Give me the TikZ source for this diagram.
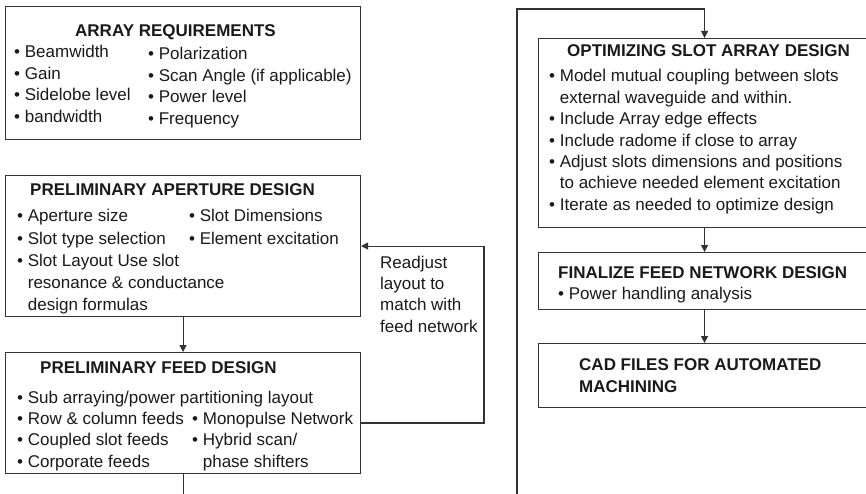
\documentclass[tikz,border=0pt]{standalone}
\usepackage{fontspec}
\setmainfont{Liberation Sans}
\usepackage{xcolor}
\usetikzlibrary{arrows.meta}
\definecolor{linegray}{HTML}{333333}
\definecolor{textblack}{HTML}{1A1A1A}
\tikzset{
  box/.style={draw=linegray, line width=1.1pt, anchor=north west, inner sep=0pt},
  txt/.style={anchor=base west, inner sep=0pt, text=textblack, font=\fontsize{17}{20}\selectfont},
  ttl/.style={txt, font=\fontsize{17}{20}\selectfont\bfseries},
  link/.style={draw=linegray, line width=1.1pt},
  arr/.style={link, -{Triangle[length=7pt,width=7pt]}}
}
\begin{document}
\begin{tikzpicture}[x=1pt,y=-1pt]
\useasboundingbox (0,0) rectangle (866,494);
\clip (0,0) rectangle (866,494);
\fill[white] (0,0) rectangle (866,494);

\node[box, minimum width=355, minimum height=133] (req) at (5,6) {};
\node[box, minimum width=355, minimum height=141] (apert) at (5,175) {};
\node[box, minimum width=355, minimum height=121] (feed) at (5,352) {};
\node[box, minimum width=332, minimum height=189] (opt) at (538,38) {};
\node[box, minimum width=332, minimum height=57] (fin) at (538,252) {};
\node[box, minimum width=332, minimum height=64] (cad) at (538,343) {};

\node[ttl] (req-t) at (75,37) {ARRAY REQUIREMENTS};
\foreach \s [count=\i] in {Beamwidth, Gain, Sidelobe level, bandwidth}
  \node[txt] (req-a\i) at (14,{58+21.4*(\i-1)}) {\textbullet\ \s};
\foreach \s [count=\i] in {Polarization, Scan Angle (if applicable), Power level, Frequency}
  \node[txt] (req-b\i) at (148,{60+21.4*(\i-1)}) {\textbullet\ \s};

\node[ttl] (apert-t) at (30,196) {PRELIMINARY APERTURE DESIGN};
\foreach \s [count=\i] in {\textbullet\ Aperture size, \textbullet\ Slot type selection,
    \textbullet\ Slot Layout Use slot, \hphantom{\textbullet\ }resonance \& conductance,
    \hphantom{\textbullet\ }design formulas}
  \node[txt] (apert-a\i) at (17,{222+22*(\i-1)}) {\s};
\foreach \s [count=\i] in {Slot Dimensions, Element excitation}
  \node[txt] (apert-b\i) at (189,{222+22*(\i-1)}) {\textbullet\ \s};

\node[ttl] (feed-t) at (40,373) {PRELIMINARY FEED DESIGN};
\foreach \s [count=\i] in {Sub arraying/power partitioning layout, Row \& column feeds,
    Coupled slot feeds, Corporate feeds}
  \node[txt] (feed-a\i) at (17,{403+21.4*(\i-1)}) {\textbullet\ \s};
\foreach \s [count=\i] in {\textbullet\ Monopulse Network, \textbullet\ Hybrid scan/,
    \hphantom{\textbullet\ }phase shifters}
  \node[txt] (feed-b\i) at (192,{424.4+21.4*(\i-1)}) {\s};

\node[ttl] (opt-t) at (567,57) {OPTIMIZING SLOT ARRAY DESIGN};
\foreach \s [count=\i] in {\textbullet\ Model mutual coupling between slots,
    \hphantom{\textbullet\ }external waveguide and within.,
    \textbullet\ Include Array edge effects, \textbullet\ Include radome if close to array,
    \textbullet\ Adjust slots dimensions and positions,
    \hphantom{\textbullet\ }to achieve needed element excitation,
    \textbullet\ Iterate as needed to optimize design}
  \node[txt] (opt-a\i) at (549,{82+21.4*(\i-1)}) {\s};

\node[ttl] (fin-t) at (558,278) {FINALIZE FEED NETWORK DESIGN};
\node[txt] (fin-a1) at (558,299) {\textbullet\ Power handling analysis};

\node[ttl] (cad-t1) at (579,370) {CAD FILES FOR AUTOMATED};
\node[ttl] (cad-t2) at (579,392) {MACHINING};

\foreach \s [count=\i] in {Readjust, layout to, match with, feed network}
  \node[txt] (readj\i) at (380,{268+21.4*(\i-1)}) {\s};

\coordinate (fbturn) at (484,423);
\coordinate (looptop) at (517,9);
\coordinate (loopbot) at (517,500);

\draw[arr] (apert.south) -- (feed.north);
\draw[link] (feed.south) -- ++(0,30);
\draw[arr] (feed.east |- fbturn) -- (fbturn) |- (apert.east);
\draw[arr] (loopbot) -- (looptop) -| (opt.north);
\draw[arr] (opt.south) -- (fin.north);
\draw[arr] (fin.south) -- (cad.north);
\end{tikzpicture}
\end{document}
